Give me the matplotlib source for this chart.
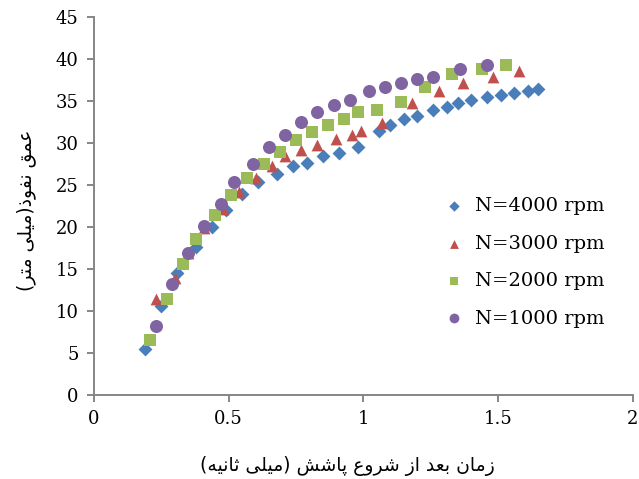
import matplotlib
matplotlib.use('Agg')
import matplotlib.pyplot as plt

# Data
t_4000 = [0.19, 0.25, 0.31, 0.38, 0.44, 0.49, 0.55, 0.61, 0.68, 0.74, 0.79, 0.85, 0.91, 0.98,
          1.06, 1.10, 1.15, 1.20, 1.26, 1.31, 1.35, 1.40, 1.46, 1.51, 1.56, 1.61, 1.65]
d_4000 = [5.5, 10.6, 14.6, 17.6, 20.0, 22.0, 24.0, 25.4, 26.3, 27.3, 27.7, 28.5, 28.8, 29.6,
          31.5, 32.2, 32.9, 33.3, 34.0, 34.3, 34.8, 35.1, 35.5, 35.8, 36.0, 36.2, 36.5]

t_3000 = [0.23, 0.30, 0.35, 0.41, 0.48, 0.54, 0.60, 0.66, 0.71, 0.77, 0.83, 0.90, 0.96, 0.99,
          1.07, 1.18, 1.28, 1.37, 1.48, 1.58]
d_3000 = [11.4, 13.9, 16.9, 19.9, 22.2, 24.2, 25.9, 27.3, 28.5, 29.2, 29.8, 30.5, 31.0, 31.5,
          32.4, 34.8, 36.2, 37.2, 37.9, 38.6]

t_2000 = [0.21, 0.27, 0.33, 0.38, 0.45, 0.51, 0.57, 0.63, 0.69, 0.75, 0.81, 0.87, 0.93, 0.98,
          1.05, 1.14, 1.23, 1.33, 1.44, 1.53]
d_2000 = [6.6, 11.5, 15.6, 18.6, 21.4, 23.8, 25.9, 27.5, 28.9, 30.4, 31.3, 32.2, 32.9, 33.7,
          33.9, 34.9, 36.7, 38.2, 38.8, 39.3]

t_1000 = [0.23, 0.29, 0.35, 0.41, 0.47, 0.52, 0.59, 0.65, 0.71, 0.77, 0.83, 0.89, 0.95, 1.02,
          1.08, 1.14, 1.20, 1.26, 1.36, 1.46]
d_1000 = [8.2, 13.2, 16.9, 20.2, 22.8, 25.4, 27.5, 29.5, 31.0, 32.5, 33.7, 34.6, 35.2, 36.2,
          36.7, 37.2, 37.6, 37.9, 38.8, 39.3]

labels = ['N=4000 rpm', 'N=3000 rpm', 'N=2000 rpm', 'N=1000 rpm']
xlabel = 'زمان بعد از شروع پاشش (میلی ثانیه)'
ylabel = 'عمق نفوذ(میلی متر)'

# matplotlib has no Arabic shaping, so pick presentation forms by hand
# (isolated, final, initial, medial)
FORMS = {
    'ا': ('\uFE8D', '\uFE8E', None, None),
    'ب': ('\uFE8F', '\uFE90', '\uFE91', '\uFE92'),
    'ت': ('\uFE95', '\uFE96', '\uFE97', '\uFE98'),
    'ث': ('\uFE99', '\uFE9A', '\uFE9B', '\uFE9C'),
    'د': ('\uFEA9', '\uFEAA', None, None),
    'ذ': ('\uFEAB', '\uFEAC', None, None),
    'ر': ('\uFEAD', '\uFEAE', None, None),
    'ز': ('\uFEAF', '\uFEB0', None, None),
    'ش': ('\uFEB5', '\uFEB6', '\uFEB7', '\uFEB8'),
    'ع': ('\uFEC9', '\uFECA', '\uFECB', '\uFECC'),
    'ف': ('\uFED1', '\uFED2', '\uFED3', '\uFED4'),
    'ق': ('\uFED5', '\uFED6', '\uFED7', '\uFED8'),
    'ل': ('\uFEDD', '\uFEDE', '\uFEDF', '\uFEE0'),
    'م': ('\uFEE1', '\uFEE2', '\uFEE3', '\uFEE4'),
    'ن': ('\uFEE5', '\uFEE6', '\uFEE7', '\uFEE8'),
    'ه': ('\uFEE9', '\uFEEA', '\uFEEB', '\uFEEC'),
    'و': ('\uFEED', '\uFEEE', None, None),
    'پ': ('\uFB56', '\uFB57', '\uFB58', '\uFB59'),
    'ی': ('\uFBFC', '\uFBFD', '\uFBFE', '\uFBFF'),
}


def shape(text):
    out = []
    for i, ch in enumerate(text):
        if ch not in FORMS:
            out.append(ch)
            continue
        prev = text[i - 1] if i > 0 else ''
        nxt = text[i + 1] if i + 1 < len(text) else ''
        join_prev = prev in FORMS and FORMS[prev][2] is not None
        join_next = FORMS[ch][2] is not None and nxt in FORMS
        iso, fin, ini, med = FORMS[ch]
        if join_prev and join_next:
            out.append(med)
        elif join_prev:
            out.append(fin)
        elif join_next:
            out.append(ini)
        else:
            out.append(iso)
    return ''.join(out)[::-1].translate(str.maketrans('()', ')('))


colors = ['#4A7EBB', '#C0504D', '#9BBB59', '#8064A2']
markers = ['D', '^', 's', 'o']
sizes = [50, 72, 66, 88]

fig = plt.figure(figsize=(6.39, 4.79), dpi=100)
ax = fig.add_axes([0.147, 0.175, 0.843, 0.789])

series = [(t_4000, d_4000), (t_3000, d_3000), (t_2000, d_2000), (t_1000, d_1000)]
for (t, d), c, m, s, lab in zip(series, colors, markers, sizes, labels):
    ax.scatter(t, d, color=c, marker=m, s=s, label=lab, linewidths=0, zorder=3)

ax.set_xlim(0, 2)
ax.set_ylim(0, 45)
ax.set_xticks([0, 0.5, 1, 1.5, 2])
ax.set_xticklabels(['0', '0.5', '1', '1.5', '2'])
ax.set_yticks(range(0, 46, 5))

for side in ['top', 'right']:
    ax.spines[side].set_visible(False)
for side in ['left', 'bottom']:
    ax.spines[side].set_color('#868686')
    ax.spines[side].set_linewidth(1.4)
ax.tick_params(axis='both', direction='out', length=5, width=1.4, color='#868686',
               labelsize=13, labelcolor='black', pad=6)
for lbl in ax.get_xticklabels() + ax.get_yticklabels():
    lbl.set_fontfamily('DejaVu Serif')

ax.set_xlabel(shape(xlabel), fontsize=13.5, family='DejaVu Sans')
ax.set_ylabel(shape(ylabel), fontsize=13.5, family='DejaVu Sans')
ax.xaxis.set_label_coords(0.47, -0.162)
ax.yaxis.set_label_coords(-0.108, 0.49)

leg = ax.legend(loc='upper left', bbox_to_anchor=(0.6, 0.57), frameon=False,
                prop={'family': 'DejaVu Serif', 'size': 14},
                handletextpad=0.1, labelspacing=1.0, markerscale=0.75)

fig.savefig('out.png', dpi=100)
